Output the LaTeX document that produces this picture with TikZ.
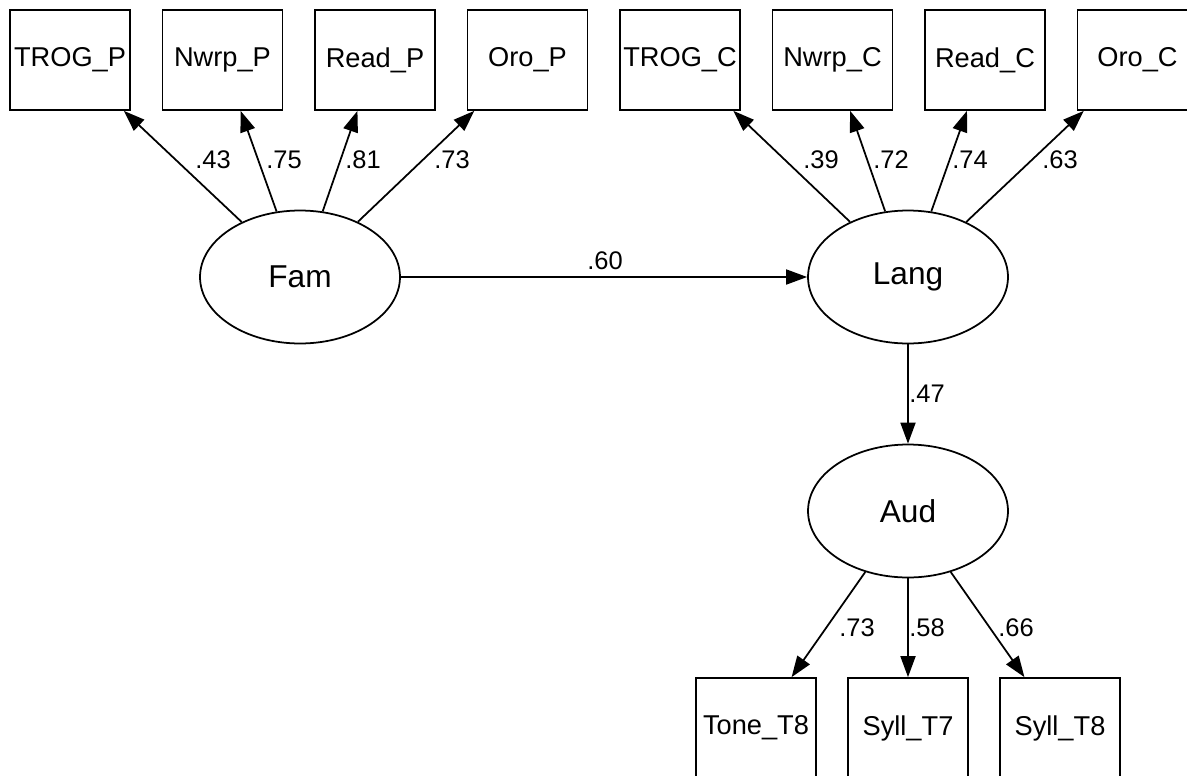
\documentclass[tikz,border=0pt]{standalone}
\usepackage{fontspec}
\setmainfont{Liberation Sans}
\usepackage{tikz}
\usetikzlibrary{
    arrows.meta,
    shapes.geometric,
    positioning
}
\tikzstyle{observed} = [
    rectangle,
    draw=black,
    line width=1pt,
    minimum width=2.4cm,
    minimum height=2cm,
    inner sep=0pt,
    text centered,
    font=\fontsize{15.5}{18}\selectfont
]
\tikzstyle{latent} = [
    ellipse,
    draw=black,
    line width=1pt,
    minimum width=4cm,
    minimum height=2.66cm,
    inner sep=0pt,
    text centered,
    font=\fontsize{18}{21}\selectfont
]
\tikzstyle{weight} = [
    inner sep=0pt,
    font=\fontsize{14.5}{16}\selectfont
]
\tikzstyle{path} = [
    -{Triangle[length=0.42cm, width=0.3cm]},
    line width=1pt,
    draw=black
]

\begin{document}
\begin{tikzpicture}[x=0.02cm, y=-0.02cm]
        \useasboundingbox (0,0) rectangle (1187,775);
        \clip (0,0) rectangle (1187,775);

        % Parent indicators
        \node[observed] (trogp) at (70, 60) {TROG\_P};
        \node[observed] (nwrpp) at (222.5, 60) {Nwrp\_P};
        \node[observed] (readp) at (375, 60) {Read\_P};
        \node[observed] (orop) at (527.5, 60) {Oro\_P};

        % Child indicators
        \node[observed] (trogc) at (680, 60) {TROG\_C};
        \node[observed] (nwrpc) at (832.5, 60) {Nwrp\_C};
        \node[observed] (readc) at (985, 60) {Read\_C};
        \node[observed] (oroc) at (1137.5, 60) {Oro\_C};

        % Latent factors
        \node[latent] (fam) at (300, 277) {Fam};
        \node[latent] (lang) at (908, 277) {Lang};
        \node[latent] (aud) at (908, 511) {Aud};

        % Auditory indicators
        \node[observed] (tone) at (756, 728) {Tone\_T8};
        \node[observed] (syllseven) at (908, 728) {Syll\_T7};
        \node[observed] (sylleight) at (1060, 728) {Syll\_T8};

        % Paths
        \draw[path] (fam) -- (trogp);
        \draw[path] (fam) -- (nwrpp);
        \draw[path] (fam) -- (readp);
        \draw[path] (fam) -- (orop);
        \draw[path] (lang) -- (trogc);
        \draw[path] (lang) -- (nwrpc);
        \draw[path] (lang) -- (readc);
        \draw[path] (lang) -- (oroc);
        \draw[path] (fam) -- (lang);
        \draw[path] (lang) -- (aud);
        \draw[path] (aud) -- (tone);
        \draw[path] (aud) -- (syllseven);
        \draw[path] (aud) -- (sylleight);

        % Weights
        \node[weight] (wtrogp) at (213, 160) {.43};
        \node[weight] (wnwrpp) at (284, 160) {.75};
        \node[weight] (wreadp) at (363, 160) {.81};
        \node[weight] (worop) at (452, 160) {.73};
        \node[weight] (wtrogc) at (821, 160) {.39};
        \node[weight] (wnwrpc) at (891, 160) {.72};
        \node[weight] (wreadc) at (970, 160) {.74};
        \node[weight] (woroc) at (1060, 160) {.63};
        \node[weight] (wfam) at (605, 261) {.60};
        \node[weight] (wlang) at (927, 394) {.47};
        \node[weight] (wtone) at (857, 628) {.73};
        \node[weight] (wsyllseven) at (927, 628) {.58};
        \node[weight] (wsylleight) at (1016, 628) {.66};
    \end{tikzpicture}
\end{document}
